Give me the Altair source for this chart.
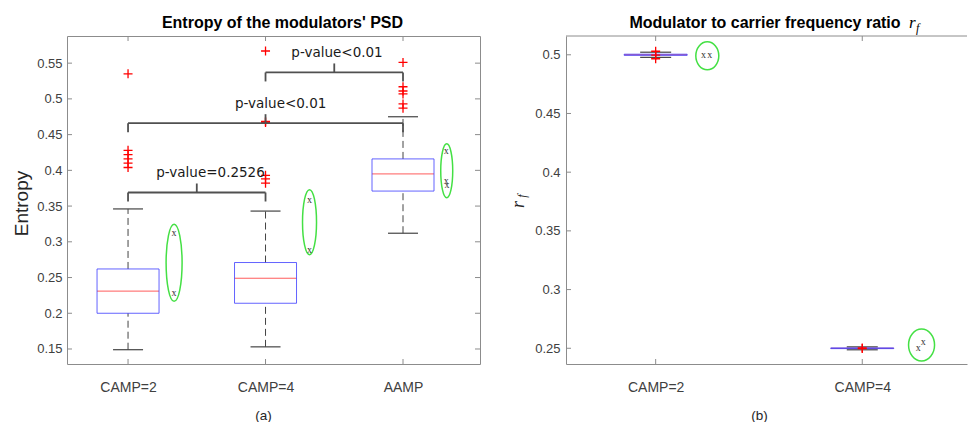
import json
import altair as alt
import pandas as pd

# ---------------- panel (a): entropy of the modulators' PSD ----------------
CATS_A = ["CAMP=2", "CAMP=4", "AAMP"]
POS_A = [1, 2, 3]
Q1_A = [0.200, 0.214, 0.371]
MED_A = [0.231, 0.249, 0.395]
Q3_A = [0.262, 0.271, 0.416]
LOW_A = [0.149, 0.153, 0.312]
HIGH_A = [0.346, 0.343, 0.475]

OUT_POS_A = [1, 1, 1, 1, 1, 1, 2, 2, 2, 2, 2, 2, 3, 3, 3, 3, 3, 3]
OUT_VAL_A = [0.535, 0.428, 0.422, 0.416, 0.410, 0.404,
             0.567, 0.4685, 0.467, 0.393, 0.388, 0.382,
             0.551, 0.517, 0.511, 0.507, 0.493, 0.487]

TEST_X_A = [1.335, 1.335, 2.32, 2.32, 3.315, 3.315, 3.32]
TEST_Y_A = [0.313, 0.228, 0.359, 0.288, 0.427, 0.385, 0.380]

RING_X_A = [1.335, 2.32, 3.318]
RING_Y_A = [0.2706, 0.3275, 0.3993]

PAIR_FROM = [1, 1, 2]
PAIR_TO = [2, 3, 3]
PAIR_LEVEL = [0.369, 0.466, 0.537]
PAIR_TEXT = ["p-value=0.2526", "p-value<0.01", "p-value<0.01"]
PAIR_TEXT_X = [1.60, 2.11, 2.52]

Y_TICKS_A = [0.15, 0.2, 0.25, 0.3, 0.35, 0.4, 0.45, 0.5, 0.55]
TITLE_A = "Entropy of the modulators' PSD"

# ---------------- panel (b): modulator to carrier frequency ratio ----------------
CATS_B = ["CAMP=2", "CAMP=4"]
POS_B = [1, 2]
Q1_B = [0.4995, 0.2497]
MED_B = [0.5000, 0.2500]
Q3_B = [0.5005, 0.2503]
LOW_B = [0.4978, 0.2487]
HIGH_B = [0.5022, 0.2512]
OUT_POS_B = [1, 1, 1, 2, 2]
OUT_VAL_B = [0.5030, 0.4997, 0.4966, 0.2503, 0.2497]
TEST_X_B = [1.232, 1.262, 2.271, 2.295]
TEST_Y_B = [0.4995, 0.4995, 0.2500, 0.2551]
RING_X_B = [1.25, 2.287]
RING_Y_B = [0.4991, 0.2528]
Y_TICKS_B = [0.25, 0.3, 0.35, 0.4, 0.45, 0.5]
TITLE_B = "Modulator to carrier frequency ratio"

# ---------------- styles ----------------
FRAME = "#8c8c8c"
LABEL = "#404040"
BLUE = "#3c3cff"
RED = "#ff5c5c"
WHISK = "#444444"
GREEN = "#44e044"
BRACKET = "#505050"
TICK_LEN = 5
PLUS = "M-1,0L1,0M0,-1L0,1"

W_A, H_A = 413, 328
XDOM_A, YDOM_A = [0.556, 3.56], [0.129, 0.588]
BOX_A, CAP_A = 62, 30
RING_DIMS_A = [(16, 77), (14, 65), (12, 54)]

W_B, H_B = 401, 328
XDOM_B, YDOM_B = [0.566, 2.507], [0.2366, 0.516]
BOX_B, CAP_B = 63, 31
RING_DIMS_B = [(23, 28), (26, 32)]


def ring_path(w, h):
    a = w / h
    k = 0.5523
    ka = k * a
    return (f"M0,-1C{ka:.4f},-1,{a:.4f},-{k:.4f},{a:.4f},0"
            f"C{a:.4f},{k:.4f},{ka:.4f},1,0,1"
            f"C-{ka:.4f},1,-{a:.4f},{k:.4f},-{a:.4f},0"
            f"C-{a:.4f},-{k:.4f},-{ka:.4f},-1,0,-1Z")


def panel(cats, pos, q1, med, q3, low, high, out_pos, out_val, test_x, test_y,
          ring_x, ring_y, ring_dims, y_ticks, W, H, xdom, ydom, box_px, cap_px,
          x_axis, y_axis, right_ticks, top_border):
    pxu_x = W / (xdom[1] - xdom[0])
    pxu_y = H / (ydom[1] - ydom[0])
    xs = alt.Scale(domain=xdom, nice=False, zero=False)
    ys = alt.Scale(domain=ydom, nice=False, zero=False)

    def X(f):
        return alt.X(f, type="quantitative", scale=xs, axis=x_axis)

    def Y(f):
        return alt.Y(f, type="quantitative", scale=ys, axis=y_axis)

    boxes = pd.DataFrame({"cat": cats, "pos": pos, "q1": q1, "med": med,
                          "q3": q3, "low": low, "high": high})
    boxes["bl"] = boxes["pos"] - box_px / 2 / pxu_x
    boxes["br"] = boxes["pos"] + box_px / 2 / pxu_x
    boxes["cl"] = boxes["pos"] - cap_px / 2 / pxu_x
    boxes["cr"] = boxes["pos"] + cap_px / 2 / pxu_x
    base = alt.Chart(boxes)

    layers = [
        base.mark_rule(color=WHISK, strokeDash=[7, 4], strokeWidth=1).encode(
            x=X("pos"), y=Y("q3"), y2="high"),
        base.mark_rule(color=WHISK, strokeDash=[7, 4], strokeWidth=1).encode(
            x=X("pos"), y=Y("low"), y2="q1"),
        base.mark_rule(color=WHISK, strokeWidth=1.2).encode(
            x=X("cl"), x2="cr", y=Y("high")),
        base.mark_rule(color=WHISK, strokeWidth=1.2).encode(
            x=X("cl"), x2="cr", y=Y("low")),
        base.mark_rule(color=RED, strokeWidth=1).encode(
            x=X("bl"), x2="br", y=Y("med")),
        base.mark_rect(fillOpacity=0, stroke=BLUE, strokeOpacity=0.8,
                       strokeWidth=1).encode(
            x=X("bl"), x2="br", y=Y("q1"), y2="q3"),
    ]

    outs = pd.DataFrame({"pos": out_pos, "val": out_val})
    layers.append(alt.Chart(outs).mark_point(
        shape=PLUS, size=81, filled=False, stroke="#ff0000", strokeWidth=1.3,
        opacity=1).encode(x=X("pos"), y=Y("val")))

    rings = pd.DataFrame({"x": ring_x, "y": ring_y,
                          "path": [ring_path(w, h) for w, h in ring_dims],
                          "sz": [h * h for w, h in ring_dims]})
    layers.append(alt.Chart(rings).mark_point(
        filled=False, stroke=GREEN, strokeWidth=1.5, opacity=1).encode(
        x=X("x"), y=Y("y"),
        shape=alt.Shape("path:N", scale=None),
        size=alt.Size("sz:Q", scale=None)))

    tests = pd.DataFrame({"x": test_x, "y": test_y})
    layers.append(alt.Chart(tests).mark_text(
        text="x", font="Liberation Serif", fontSize=10, color="#333333",
        baseline="middle").encode(x=X("x"), y=Y("y")))

    # inward ticks, placed in data units along the frame
    yt = pd.DataFrame({"v": y_ticks})
    yt["l0"] = xdom[0]
    yt["l1"] = xdom[0] + TICK_LEN / pxu_x
    yt["r0"] = xdom[1] - TICK_LEN / pxu_x
    yt["r1"] = xdom[1]
    xt = pd.DataFrame({"v": pos})
    xt["b0"] = ydom[0]
    xt["b1"] = ydom[0] + TICK_LEN / pxu_y
    xt["t0"] = ydom[1] - TICK_LEN / pxu_y
    xt["t1"] = ydom[1]
    ytc, xtc = alt.Chart(yt), alt.Chart(xt)
    layers += [
        ytc.mark_rule(color=FRAME).encode(y=Y("v"), x=X("l0"), x2="l1"),
        xtc.mark_rule(color=FRAME).encode(x=X("v"), y=Y("b0"), y2="b1"),
        xtc.mark_rule(color=FRAME).encode(x=X("v"), y=Y("t0"), y2="t1"),
    ]
    if right_ticks:
        layers.append(ytc.mark_rule(color=FRAME).encode(y=Y("v"), x=X("r0"), x2="r1"))
    if top_border:
        tb = pd.DataFrame({"a": [xdom[0]], "b": [xdom[1]], "y": [ydom[1]]})
        layers.append(alt.Chart(tb).mark_rule(color=FRAME).encode(
            x=X("a"), x2="b", y=Y("y")))
    return layers, X, Y, pxu_y


# ---------------- panel (a) ----------------
labels_a = json.dumps(CATS_A)
x_axis_a = alt.Axis(values=POS_A, labelExpr=f"{labels_a}[datum.value - 1]",
                    labelPadding=16, labelFontSize=14, labelFlush=False,
                    labelFont="Liberation Sans", labelColor=LABEL,
                    title="(a)", titleX=196, titleY=51, titleBaseline="middle",
                    titleFont="Liberation Sans", titleColor="#262626",
                    titleFontSize=13.5, titleFontWeight="normal",
                    domain=False, grid=False, ticks=False)
y_axis_a = alt.Axis(values=Y_TICKS_A, format=".2~f", labelPadding=5,
                    labelFontSize=13, labelFont="Liberation Sans", labelColor=LABEL,
                    title="Entropy", titleFontSize=19, titleFont="Liberation Sans",
                    titleColor="#262626",
                    titleFontWeight="normal", titleAngle=270, titleX=-46,
                    titleY=167, titleAlign="center", titleBaseline="middle",
                    domain=False, grid=False, ticks=False)

layers_a, XA, YA, pxu_ya = panel(CATS_A, POS_A, Q1_A, MED_A, Q3_A, LOW_A, HIGH_A,
                                 OUT_POS_A, OUT_VAL_A, TEST_X_A, TEST_Y_A,
                                 RING_X_A, RING_Y_A, RING_DIMS_A, Y_TICKS_A,
                                 W_A, H_A, XDOM_A, YDOM_A, BOX_A, CAP_A,
                                 x_axis_a, y_axis_a, True, False)

leg = 9 / pxu_ya
pairs = pd.DataFrame({"a": PAIR_FROM, "b": PAIR_TO, "lvl": PAIR_LEVEL,
                      "txt": PAIR_TEXT, "tx": PAIR_TEXT_X})
pairs["mid"] = (pairs["a"] + pairs["b"]) / 2
pairs["up"] = pairs["lvl"] + leg
pairs["down"] = pairs["lvl"] - leg
legs = pd.concat([pairs[["a", "lvl", "down"]].rename(columns={"a": "x"}),
                  pairs[["b", "lvl", "down"]].rename(columns={"b": "x"})])
pc = alt.Chart(pairs)
one = alt.Chart(pd.DataFrame({"k": [0]}))
layers_a += [
    pc.mark_rule(color=BRACKET, strokeWidth=1.8).encode(x=XA("a"), x2="b", y=YA("lvl")),
    pc.mark_rule(color=BRACKET, strokeWidth=1.8).encode(x=XA("mid"), y=YA("lvl"), y2="up"),
    alt.Chart(legs).mark_rule(color=BRACKET, strokeWidth=1.8).encode(
        x=XA("x"), y=YA("lvl"), y2="down"),
    pc.mark_text(font="DejaVu Sans", fontSize=13.5, color="#1a1a1a",
                 baseline="alphabetic", dy=-15).encode(
        x=XA("tx"), y=YA("lvl"), text="txt:N"),
    one.mark_text(text=TITLE_A, font="Liberation Sans", fontSize=16,
                  fontWeight="bold", color="black", align="center",
                  baseline="alphabetic").encode(x=alt.value(215.5), y=alt.value(-8)),
]

left = alt.layer(*layers_a).properties(width=W_A, height=H_A)

# ---------------- panel (b) ----------------
labels_b = json.dumps(CATS_B)
x_axis_b = alt.Axis(values=POS_B, labelExpr=f"{labels_b}[datum.value - 1]",
                    labelPadding=16, labelFontSize=14, labelFlush=False,
                    labelFont="Liberation Sans", labelColor=LABEL,
                    title="(b)", titleX=193, titleY=51, titleBaseline="middle",
                    titleFont="Liberation Sans", titleColor="#262626",
                    titleFontSize=13.5, titleFontWeight="normal",
                    domain=True, domainColor=FRAME, grid=False, ticks=False)
y_axis_b = alt.Axis(values=Y_TICKS_B, format=".2~f", labelPadding=6,
                    labelFontSize=13, labelFont="Liberation Sans", labelColor=LABEL,
                    title="r", titleFont="Liberation Serif",
                    titleFontStyle="italic", titleFontSize=18, titleColor="#262626",
                    titleFontWeight="normal", titleAngle=270, titleX=-47.5,
                    titleY=168, titleAlign="center", titleBaseline="middle",
                    domain=True, domainColor=FRAME, grid=False, ticks=False)

layers_b, XB, YB, _ = panel(CATS_B, POS_B, Q1_B, MED_B, Q3_B, LOW_B, HIGH_B,
                            OUT_POS_B, OUT_VAL_B, TEST_X_B, TEST_Y_B,
                            RING_X_B, RING_Y_B, RING_DIMS_B, Y_TICKS_B,
                            W_B, H_B, XDOM_B, YDOM_B, BOX_B, CAP_B,
                            x_axis_b, y_axis_b, False, True)
layers_b += [
    one.mark_text(text="f", font="Liberation Serif", fontStyle="italic", fontSize=12,
                  angle=270, color="#262626", align="center", baseline="middle").encode(
        x=alt.value(-44), y=alt.value(160)),
    one.mark_text(text=TITLE_B, font="Liberation Sans", fontSize=16,
                  fontWeight="bold", color="black", align="center",
                  baseline="alphabetic").encode(x=alt.value(199), y=alt.value(-8)),
    one.mark_text(text="r", font="Liberation Serif", fontStyle="italic", fontSize=17,
                  color="black", align="left", baseline="alphabetic").encode(
        x=alt.value(343), y=alt.value(-8)),
    one.mark_text(text="f", font="Liberation Serif", fontStyle="italic", fontSize=12,
                  color="black", align="left", baseline="alphabetic").encode(
        x=alt.value(350), y=alt.value(-4)),
]

right = alt.layer(*layers_b).properties(
    width=W_B, height=H_B, view=alt.ViewBackground(stroke="transparent"))

chart = alt.hconcat(left, right, spacing=86, bounds="flush").properties(
    padding={"left": 11, "top": 13, "right": 0, "bottom": 0},
    background="white"
).configure_view(stroke=FRAME, strokeWidth=1).configure_axis(
    grid=False, ticks=False, tickSize=0, labelFont="Liberation Sans",
    labelColor=LABEL, titleFont="Liberation Sans", titleColor="#262626"
)

chart.save("out.html", embed_options={"renderer": "svg", "actions": False})
